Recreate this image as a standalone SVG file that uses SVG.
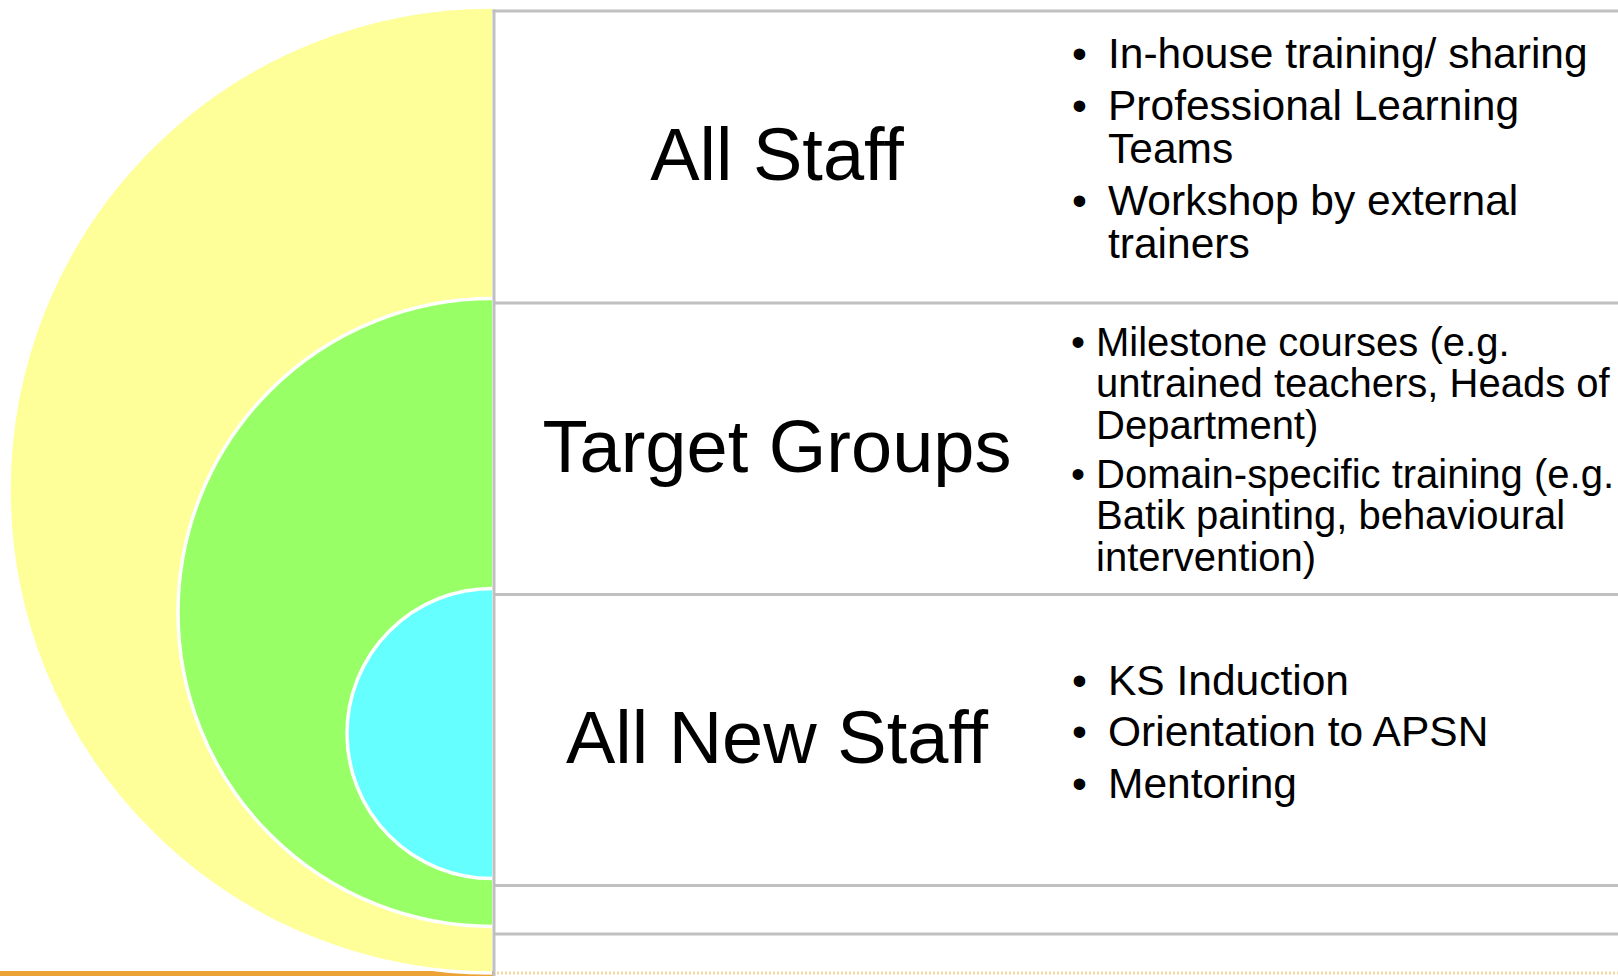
<svg xmlns="http://www.w3.org/2000/svg" width="1618" height="976" viewBox="0 0 1618 976">
  <style>
    .title { font-family: "Liberation Sans", Arial, sans-serif; font-size: 74px; fill: #000; text-anchor: middle; }
    .item { font-family: "Liberation Sans", Arial, sans-serif; font-size: 42.5px; fill: #000; }
    .item2 { font-family: "Liberation Sans", Arial, sans-serif; font-size: 40px; fill: #000; }
    .rule { stroke: #C0C0C0; stroke-width: 3; fill: none; }
    .ring { stroke: #FFFFFF; stroke-width: 3.5; }
  </style>
  <rect x="0" y="0" width="1618" height="976" fill="#FFFFFF"/>

  <!-- bottom orange bar -->
  <rect x="0" y="971" width="494" height="5" fill="#EDA236"/>
  <line x1="497" y1="973" x2="1618" y2="973" stroke="#F9D9A6" stroke-width="3" stroke-dasharray="2 2"/>

  <!-- circles -->
  <g id="circle-all-staff">
    <path class="ring" d="M492,7 A483,483 0 0 0 492,973" fill="#FFFF99"/>
  </g>
  <g id="circle-target-groups">
    <path class="ring" d="M492,298.5 A314,314 0 0 0 492,926.5" fill="#99FF66"/>
  </g>
  <g id="circle-new-staff">
    <path class="ring" d="M492,588.5 A145,145 0 0 0 492,878.5" fill="#66FFFF"/>
  </g>

  <!-- table rules -->
  <g id="connectors">
    <line class="rule" x1="494" y1="9.5" x2="494" y2="976"/>
    <line class="rule" x1="492.5" y1="11" x2="1618" y2="11"/>
    <line class="rule" x1="494" y1="303" x2="1618" y2="303"/>
    <line class="rule" x1="494" y1="594.5" x2="1618" y2="594.5"/>
    <line class="rule" x1="494" y1="885.5" x2="1618" y2="885.5"/>
    <line class="rule" x1="494" y1="934" x2="1618" y2="934"/>
  </g>

  <g id="row-all-staff">
    <text class="title" x="777" y="180">All Staff</text>
    <text class="item" x="1072" y="68">•</text>
    <text class="item" x="1108" y="68">In-house training/ sharing</text>
    <text class="item" x="1072" y="119.5">•</text>
    <text class="item" x="1108" y="119.5">Professional Learning</text>
    <text class="item" x="1108" y="163">Teams</text>
    <text class="item" x="1072" y="214.5">•</text>
    <text class="item" x="1108" y="214.5">Workshop by external</text>
    <text class="item" x="1108" y="258">trainers</text>
  </g>

  <g id="row-target-groups">
    <text class="title" x="777" y="471.5">Target Groups</text>
    <text class="item2" x="1071" y="356">•</text>
    <text class="item2" x="1096" y="356">Milestone courses (e.g.</text>
    <text class="item2" x="1096" y="397">untrained teachers, Heads of</text>
    <text class="item2" x="1096" y="438.5">Department)</text>
    <text class="item2" x="1071" y="488">•</text>
    <text class="item2" x="1096" y="488">Domain-specific training (e.g.</text>
    <text class="item2" x="1096" y="529">Batik painting, behavioural</text>
    <text class="item2" x="1096" y="570.5">intervention)</text>
  </g>

  <g id="row-all-new-staff">
    <text class="title" x="777" y="763">All New Staff</text>
    <text class="item" x="1072" y="694.5">•</text>
    <text class="item" x="1108" y="694.5">KS Induction</text>
    <text class="item" x="1072" y="746">•</text>
    <text class="item" x="1108" y="746">Orientation to APSN</text>
    <text class="item" x="1072" y="797.5">•</text>
    <text class="item" x="1108" y="797.5">Mentoring</text>
  </g>
</svg>
